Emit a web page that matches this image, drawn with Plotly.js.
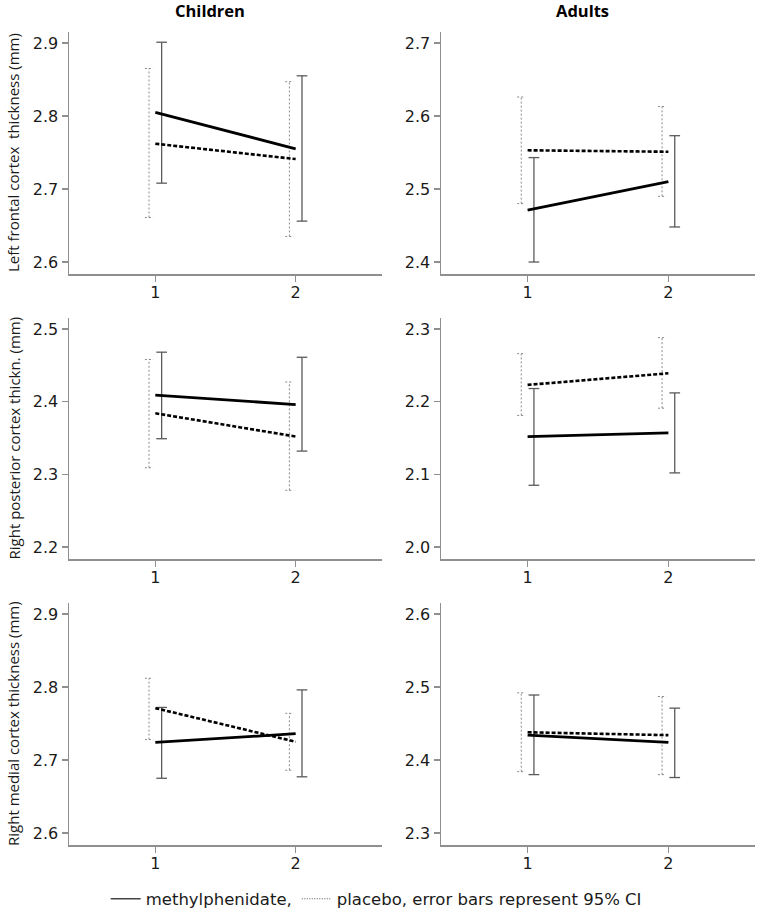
<!DOCTYPE html>
<html>
<head>
<meta charset="utf-8">
<script src="https://cdn.plot.ly/plotly-3.0.1.min.js"></script>
<style>html,body{margin:0;padding:0;background:#fff;}#chart{width:760px;height:918px;}</style>
</head>
<body>
<div id="chart"></div>
<script>
// ---- data ----
const groups = ['Children', 'Adults'];
const measures = ['Left frontal cortex  thickness (mm)', 'Right posterior cortex thickn. (mm)', 'Right medial cortex thickness (mm)'];
const sessions = [1, 2];
const sessionLabels = ['1', '2'];
const seriesNames = ['methylphenidate,', 'placebo, error bars represent 95% CI'];

// panel order: row1 Children, row1 Adults, row2 Children, row2 Adults, row3 Children, row3 Adults
const methMean = [[2.805, 2.755], [2.471, 2.510], [2.409, 2.396], [2.152, 2.157], [2.724, 2.736], [2.434, 2.424]];
const methLo   = [[2.708, 2.656], [2.400, 2.448], [2.349, 2.332], [2.085, 2.102], [2.675, 2.677], [2.380, 2.376]];
const methHi   = [[2.901, 2.855], [2.543, 2.573], [2.468, 2.461], [2.218, 2.212], [2.772, 2.796], [2.489, 2.471]];
const placMean = [[2.762, 2.741], [2.553, 2.551], [2.384, 2.352], [2.223, 2.239], [2.771, 2.725], [2.438, 2.434]];
const placLo   = [[2.661, 2.635], [2.480, 2.490], [2.309, 2.278], [2.181, 2.191], [2.728, 2.686], [2.384, 2.380]];
const placHi   = [[2.865, 2.847], [2.626, 2.613], [2.458, 2.427], [2.266, 2.288], [2.812, 2.764], [2.492, 2.487]];

const yTicks = [
  [2.6, 2.7, 2.8, 2.9], [2.4, 2.5, 2.6, 2.7],
  [2.2, 2.3, 2.4, 2.5], [2.0, 2.1, 2.2, 2.3],
  [2.6, 2.7, 2.8, 2.9], [2.3, 2.4, 2.5, 2.6]
];

// ---- layout geometry (px) ----
const W = 760, H = 918;
const colPx = [[69, 382], [441, 755]];
const rowPx = [[32, 274], [318, 559], [603, 845]];
const AXIS_GRAY = '#8f8f8f';
const TXT = '#1a1a1a';

const traces = [];
const layout = {
  width: W, height: H,
  margin: {l: 0, r: 0, t: 0, b: 0},
  paper_bgcolor: '#fff', plot_bgcolor: '#fff',
  showlegend: true,
  legend: {
    orientation: 'h', x: 0.495, xanchor: 'center', y: 1 - 899 / H, yanchor: 'middle',
    font: {family: 'DejaVu Sans, sans-serif', size: 16.5, color: TXT},
    bgcolor: 'rgba(0,0,0,0)', itemwidth: 30, traceorder: 'normal'
  },
  annotations: [],
  font: {family: 'DejaVu Sans, sans-serif', color: TXT}
};

function errSegments(xc, lo, hi, halfCap) {
  const xs = [], ys = [];
  for (let i = 0; i < xc.length; i++) {
    xs.push(xc[i], xc[i], null, xc[i] - halfCap, xc[i] + halfCap, null, xc[i] - halfCap, xc[i] + halfCap, null);
    ys.push(lo[i], hi[i], null, hi[i], hi[i], null, lo[i], lo[i], null);
  }
  return {xs, ys};
}

for (let r = 0; r < 3; r++) {
  for (let c = 0; c < 2; c++) {
    const p = r * 2 + c;
    const idx = p + 1;
    const xa = 'x' + (idx === 1 ? '' : idx), ya = 'y' + (idx === 1 ? '' : idx);
    const xkey = 'xaxis' + (idx === 1 ? '' : idx), ykey = 'yaxis' + (idx === 1 ? '' : idx);
    const t = yTicks[p];
    const y0 = t[0] - 0.0164, y1 = t[0] + 0.315;
    layout[xkey] = {
      domain: [colPx[c][0] / W, colPx[c][1] / W],
      range: [0.385, 2.615], anchor: ya,
      tickvals: sessions, ticktext: sessionLabels,
      ticks: 'outside', ticklen: 6, tickwidth: 1.2, tickcolor: AXIS_GRAY,
      showline: true, linecolor: AXIS_GRAY, linewidth: 1.5,
      showgrid: false, zeroline: false, fixedrange: true,
      ticklabelstandoff: -3,
      tickfont: {family: 'DejaVu Sans, sans-serif', size: 16, color: TXT}
    };
    layout[ykey] = {
      domain: [1 - rowPx[r][1] / H, 1 - rowPx[r][0] / H],
      range: [y0, y1], anchor: xa,
      tickvals: t, ticktext: t.map(v => v.toFixed(1)),
      ticks: 'outside', ticklen: 6, tickwidth: 1.2, tickcolor: AXIS_GRAY,
      showline: true, linecolor: AXIS_GRAY, linewidth: 1.5,
      showgrid: false, zeroline: false, fixedrange: true,
      tickfont: {family: 'DejaVu Sans, sans-serif', size: 16, color: TXT}
    };

    const off = 0.045;
    // placebo error bars (dotted)
    const pe = errSegments(sessions.map(s => s - off), placLo[p], placHi[p], 0.029);
    traces.push({
      x: pe.xs, y: pe.ys, xaxis: xa, yaxis: ya, mode: 'lines', type: 'scatter',
      line: {color: '#8a8a8a', width: 1, dash: '2px,2px'},
      name: seriesNames[1], legendgroup: 'plac', showlegend: false, hoverinfo: 'skip'
    });
    // methylphenidate error bars (solid)
    const me = errSegments(sessions.map(s => s + off), methLo[p], methHi[p], 0.038);
    traces.push({
      x: me.xs, y: me.ys, xaxis: xa, yaxis: ya, mode: 'lines', type: 'scatter',
      line: {color: '#5a5a5a', width: 1.3},
      name: seriesNames[0], legendgroup: 'meth', showlegend: false, hoverinfo: 'skip'
    });
    // mean lines
    traces.push({
      x: sessions, y: placMean[p], xaxis: xa, yaxis: ya, mode: 'lines', type: 'scatter',
      line: {color: '#000', width: 2.6, dash: '4px,2px'}, showlegend: false, name: seriesNames[1]
    });
    traces.push({
      x: sessions, y: methMean[p], xaxis: xa, yaxis: ya, mode: 'lines', type: 'scatter',
      line: {color: '#000', width: 2.8}, showlegend: false, name: seriesNames[0]
    });
  }
}

// legend entries (thin lines like the reference)
traces.push({
  x: [null], y: [null], mode: 'lines', type: 'scatter',
  line: {color: '#444', width: 1.3}, name: seriesNames[0], showlegend: true
});
traces.push({
  x: [null], y: [null], mode: 'lines', type: 'scatter',
  line: {color: '#555', width: 1.2, dash: '1px,1.5px'}, name: seriesNames[1], showlegend: true
});

// column titles
const titleX = [210, 582];
groups.forEach((g, c) => {
  layout.annotations.push({
    text: '<b>' + g + '</b>', xref: 'paper', yref: 'paper',
    x: titleX[c] / W, y: 1 - 11 / H, xanchor: 'center', yanchor: 'middle', showarrow: false,
    font: {family: 'Open Sans, sans-serif', size: 16.5, color: '#000'}
  });
});
// row y-axis titles
measures.forEach((m, r) => {
  layout.annotations.push({
    text: m, xref: 'paper', yref: 'paper', textangle: -90,
    x: 13 / W, y: 1 - ((rowPx[r][0] + rowPx[r][1]) / 2) / H,
    xanchor: 'center', yanchor: 'middle', showarrow: false,
    font: {family: 'Open Sans, sans-serif', size: 15, color: TXT}
  });
});

Plotly.newPlot('chart', traces, layout, {staticPlot: true, displayModeBar: false});
</script>
</body>
</html>
